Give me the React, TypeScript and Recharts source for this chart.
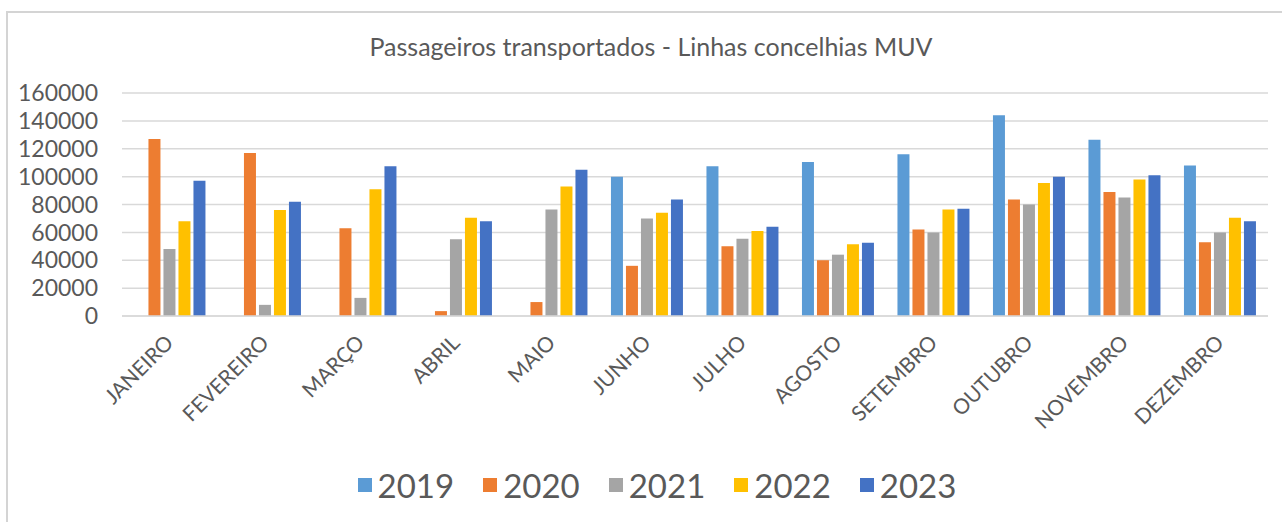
import { Bar, BarChart, CartesianGrid, Legend, XAxis, YAxis } from "recharts";

const months = [
  "JANEIRO", "FEVEREIRO", "MARÇO", "ABRIL", "MAIO", "JUNHO",
  "JULHO", "AGOSTO", "SETEMBRO", "OUTUBRO", "NOVEMBRO", "DEZEMBRO",
];

const y2019 = [null, null, null, null, null, 100000, 107500, 110500, 116000, 144000, 126500, 108000];
const y2020 = [127000, 117000, 63000, 3500, 10000, 36000, 50000, 40000, 62000, 83500, 89000, 53000];
const y2021 = [48000, 8000, 13000, 55000, 76500, 70000, 55500, 44000, 60000, 80000, 85000, 60000];
const y2022 = [68000, 76000, 91000, 70500, 93000, 74000, 61000, 51500, 76500, 95500, 98000, 70500];
const y2023 = [97000, 82000, 107500, 68000, 105000, 83500, 64000, 52500, 77000, 100000, 101000, 68000];

const yTicks = [0, 20000, 40000, 60000, 80000, 100000, 120000, 140000, 160000];

const series = [
  { key: "2019", values: y2019, color: "#5b9bd5" },
  { key: "2020", values: y2020, color: "#ed7d31" },
  { key: "2021", values: y2021, color: "#a5a5a5" },
  { key: "2022", values: y2022, color: "#ffc000" },
  { key: "2023", values: y2023, color: "#4472c4" },
];

const data = months.map((name, i) => {
  const row: Record<string, string | number | null> = { name };
  series.forEach((s) => (row[s.key] = s.values[i]));
  return row;
});

const FONT = "Lato, 'Open Sans', sans-serif";
const TEXT = "#595959";

function MonthTick({ x, y, payload }: any) {
  return (
    <g transform={`translate(${x + 5},${y + 20})`}>
      <text transform="rotate(-45)" textAnchor="end" fill={TEXT} fontSize={21} fontFamily={FONT}>
        {payload.value}
      </text>
    </g>
  );
}

function YearLegend({ payload }: any) {
  return (
    <div style={{ display: "flex", justifyContent: "center", gap: 29, fontFamily: FONT }}>
      {(payload || []).map((p: any) => (
        <div key={p.value} style={{ display: "flex", alignItems: "center", gap: 6 }}>
          <span style={{ width: 14, height: 14, background: p.color, display: "inline-block" }} />
          <span style={{ fontSize: 33, color: TEXT, lineHeight: "38px" }}>{p.value}</span>
        </div>
      ))}
    </div>
  );
}

export default function App() {
  return (
    <div style={{ position: "absolute", left: 0, top: 0, width: 1282, height: 522, background: "#fff", overflow: "hidden" }}>
      <div
        style={{
          position: "absolute", left: 6, top: 11, width: 1300, height: 540,
          borderTop: "2px solid #d4d4d4", borderLeft: "2px solid #d4d4d4",
        }}
      />
      <div
        style={{
          position: "absolute", top: 31, left: 0, width: 1302, textAlign: "center",
          fontFamily: FONT, fontSize: 25, color: TEXT,
        }}
      >
        Passageiros transportados - Linhas concelhias MUV
      </div>
      <div style={{ position: "absolute", left: 0, top: 0 }}>
        <BarChart
          width={1282}
          height={522}
          data={data}
          margin={{ top: 93, right: 14, left: 12, bottom: 0 }}
          barCategoryGap="12%"
          barGap={3}
        >
          <CartesianGrid vertical={false} stroke="#d9d9d9" strokeWidth={1.5} />
          <XAxis
            dataKey="name"
            height={206}
            interval={0}
            axisLine={{ stroke: "#d9d9d9", strokeWidth: 1.5 }}
            tickLine={false}
            tick={<MonthTick />}
          />
          <YAxis
            width={110}
            domain={[0, 160000]}
            ticks={yTicks}
            interval={0}
            axisLine={false}
            tickLine={false}
            tickSize={0}
            tickMargin={24}
            tick={{ fill: TEXT, fontSize: 23, fontFamily: FONT }}
          />
          <Legend
            verticalAlign="middle"
            layout="horizontal"
            content={<YearLegend />}
            wrapperStyle={{ top: 466, left: 16, width: 1282 }}
          />
          {series.map((s) => (
            <Bar key={s.key} dataKey={s.key} fill={s.color} isAnimationActive={false} />
          ))}
        </BarChart>
      </div>
    </div>
  );
}
